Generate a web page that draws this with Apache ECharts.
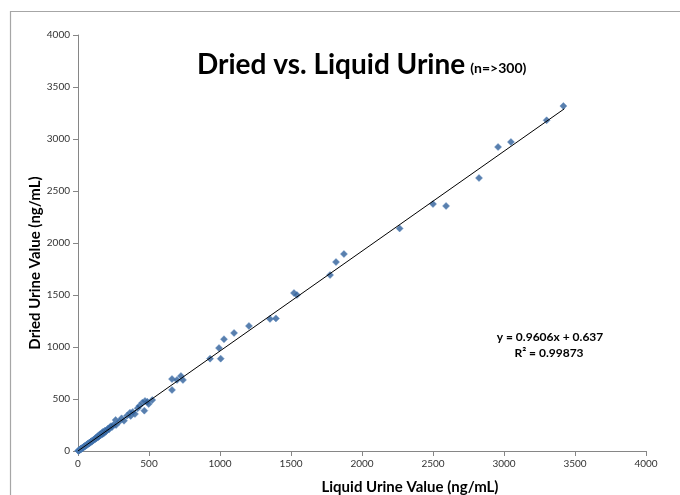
<!DOCTYPE html>
<html>
<head>
<meta charset="utf-8">
<script src="https://cdn.jsdelivr.net/npm/echarts@6/dist/echarts.min.js"></script>
<style>html,body{margin:0;padding:0;background:#fff;}#c{width:680px;height:495px;}</style>
</head>
<body>
<div id="c"></div>
<script>
// Data
var liquidValues = [2,4,6,8,10,12,14,16,18,20,22,24,26,28,30,33,35,37,40,42,45,47,50,52,55,58,60,63,65,68,70,73,76,78,80,83,86,88,91,94,97,100,103,106,110,113,116,120,123,126,130,134,138,142,145,150,154,158,162,167,172,176,180,186,190,196,203,210,218,225,232,240,250,265,268,290,307,324,345,366,371,385,401,420,432,453,467,472,488,498,523,662,662,697,725,739,930,993,1005,1028,1099,1204,1352,1394,1521,1542,1775,1817,1873,2265,2500,2592,2824,2958,3049,3300,3418];
var driedValues  = [3,2,5,9,8,11,13,16,15,21,19,23,26,25,30,31,32,36,38,41,42,46,47,51,53,55,60,58,64,64,69,70,72,77,76,82,80,86,88,92,90,98,100,104,104,110,114,112,121,128,122,131,140,133,150,142,160,150,158,172,160,185,168,178,196,186,200,214,206,228,238,230,252,298,250,282,314,291,340,368,337,375,356,410,433,464,388,481,474,452,490,692,587,683,721,683,888,990,888,1075,1135,1202,1270,1275,1519,1500,1692,1817,1894,2140,2375,2356,2625,2923,2971,3180,3317];
var trendSlope = 0.9606;
var trendIntercept = 0.637;
var trendXRange = [0, 3425];
var axisTicks = [0, 500, 1000, 1500, 2000, 2500, 3000, 3500, 4000];
var titleMain = 'Dried vs. Liquid Urine';
var titleSub = '(n=>300)';
var xTitle = 'Liquid Urine Value (ng/mL)';
var yTitle = 'Dried Urine Value (ng/mL)';
var eqLine1 = 'y = 0.9606x + 0.637';
var eqLine2 = 'R² = 0.99873';

var pts = liquidValues.map(function(x, i){ return [x, driedValues[i]]; });
var trend = trendXRange.map(function(x){ return [x, trendSlope * x + trendIntercept]; });

var chart = echarts.init(document.getElementById('c'), null, {renderer: 'canvas'});
var font = 'Lato, "Open Sans", sans-serif';
var axisCommon = {
  type: 'value', min: axisTicks[0], max: axisTicks[axisTicks.length-1], interval: 500,
  axisLine: {show: true, lineStyle: {color: '#868686', width: 1}},
  axisTick: {show: true, length: 5, lineStyle: {color: '#868686'}},
  splitLine: {show: false},
  axisLabel: {color: '#333', fontSize: 10, fontFamily: font, margin: 8,
    formatter: function(v){ return String(v); }}
};
chart.setOption({
  animation: false,
  backgroundColor: '#fff',
  grid: {left: 78, right: 34, top: 35, bottom: 44},
  title: {
    text: '{a|' + titleMain + '} {b|' + titleSub + '}',
    left: 192, top: 46,
    textStyle: {rich: {
      a: {fontSize: 28, fontWeight: 'bold', color: '#000', fontFamily: font},
      b: {fontSize: 14, fontWeight: 'bold', color: '#000', fontFamily: font, padding: [7,0,0,0]}
    }}
  },
  xAxis: Object.assign({}, axisCommon),
  yAxis: Object.assign({}, axisCommon),
  series: [
    {type: 'scatter', data: pts, symbol: 'diamond', symbolSize: 7,
     itemStyle: {color: '#2F5F99', borderColor: '#5584BE', borderWidth: 0.6}, z: 2},
    {type: 'line', data: trend, showSymbol: false, symbol: 'none',
     lineStyle: {color: '#000', width: 1}, z: 3}
  ],
  graphic: [
    {type: 'rect', left: 8, top: 9, shape: {x: 0, y: 0, width: 700, height: 520},
     style: {fill: 'none', stroke: '#a6a6a6', lineWidth: 1.2}, silent: true},
    {type: 'text', x: 410, y: 487, style: {text: xTitle, fontSize: 15, fontWeight: 'bold', fill: '#000', fontFamily: font, align: 'center', verticalAlign: 'middle'}},
    {type: 'text', x: 35, y: 263, rotation: Math.PI / 2, style: {text: yTitle, fontSize: 15, fontWeight: 'bold', fill: '#000', fontFamily: font, align: 'center', verticalAlign: 'middle'}},
    {type: 'text', x: 550, y: 337, style: {text: eqLine1, fontSize: 12, fontWeight: 'bold', fill: '#000', fontFamily: font, align: 'center', verticalAlign: 'middle'}},
    {type: 'text', x: 549, y: 353, style: {text: eqLine2, fontSize: 12, fontWeight: 'bold', fill: '#000', fontFamily: font, align: 'center', verticalAlign: 'middle'}}
  ]
});
</script>
</body>
</html>
